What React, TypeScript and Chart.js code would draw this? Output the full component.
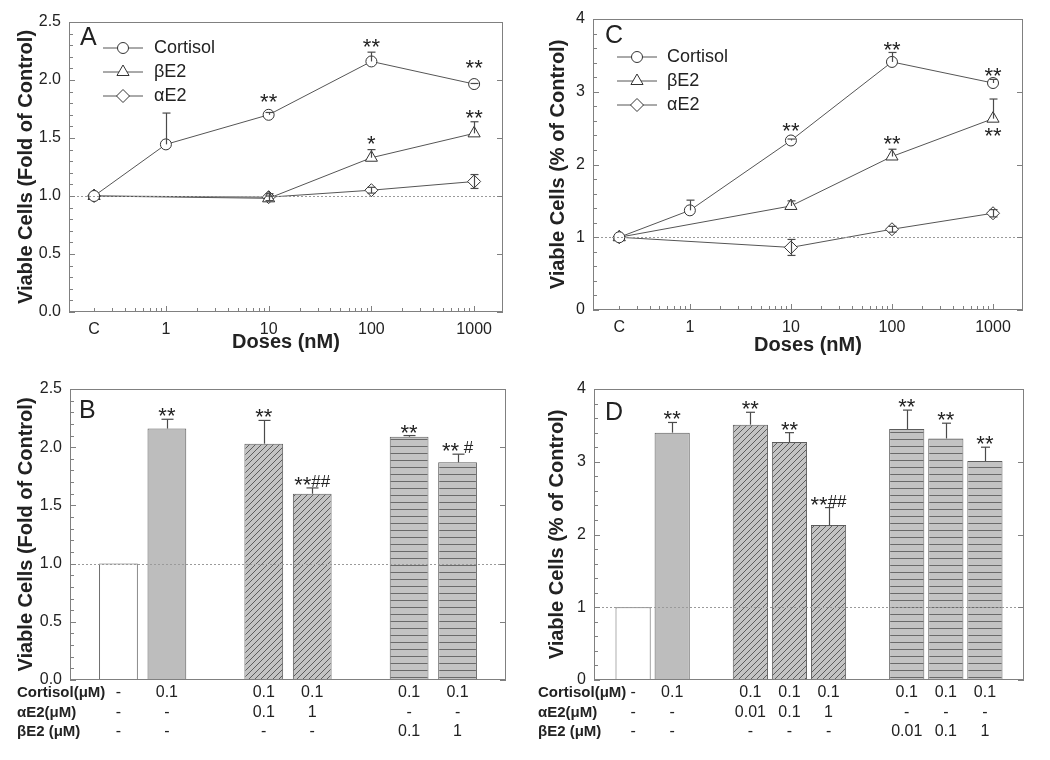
import React, { useEffect, useRef } from 'react';
import { Chart, registerables } from 'chart.js';
Chart.register(...registerables);

const FONT = '"Liberation Sans", Arial, Helvetica, sans-serif';
const INK = '#222222';
const AXIS = '#808080';
const LINE = '#555555';
const TICK_SIZE = 16;

// ---------- shared dose axis (panels A and C) ----------
const DOSE_TICKS = [0.2, 1, 10, 100, 1000];
const DOSE_LABELS = ['C', '1', '10', '100', '1000'];
const SERIES_NAMES = ['Cortisol', 'βE2', 'αE2'];

// ---------- Panel A ----------
const A_CORT_DOSES = [0.2, 1, 10, 100, 1000];
const A_CORT = [1.0, 1.445, 1.70, 2.16, 1.965];
const A_CORT_ERR = [0, 0.27, 0.02, 0.08, 0.005];
const A_BETA_DOSES = [0.2, 10, 100, 1000];
const A_BETA = [1.0, 0.98, 1.33, 1.54];
const A_BETA_ERR = [0, 0.02, 0.07, 0.10];
const A_ALPHA_DOSES = [0.2, 10, 100, 1000];
const A_ALPHA = [1.0, 0.99, 1.05, 1.125];
const A_ALPHA_ERR = [0, 0.03, 0.025, 0.06];
const A_MARK_TEXT = ['**', '**', '**', '*', '**'];
const A_MARK_DOSE = [10, 100, 1000, 100, 1000];
const A_MARK_Y = [1.845, 2.316, 2.14, 1.48, 1.71];

// ---------- Panel C ----------
const C_CORT_DOSES = [0.2, 1, 10, 100, 1000];
const C_CORT = [1.0, 1.37, 2.33, 3.41, 3.12];
const C_CORT_ERR = [0, 0.14, 0.02, 0.13, 0.05];
const C_BETA_DOSES = [0.2, 10, 100, 1000];
const C_BETA = [1.0, 1.43, 2.11, 2.63];
const C_BETA_ERR = [0, 0.07, 0.10, 0.27];
const C_ALPHA_DOSES = [0.2, 10, 100, 1000];
const C_ALPHA = [1.0, 0.86, 1.11, 1.33];
const C_ALPHA_ERR = [0, 0.11, 0.04, 0.05];
const C_MARK_TEXT = ['**', '**', '**', '**', '**'];
const C_MARK_DOSE = [10, 100, 1000, 100, 1000];
const C_MARK_Y = [2.51, 3.63, 3.275, 2.34, 2.44];

// ---------- Panel B ----------
const B_CATEGORIES = ['', 'Control', 'Cortisol 0.1', '', 'αE2 0.1', 'αE2 1', '', 'βE2 0.1', 'βE2 1', ''];
const B_VALUES = [null, 1.0, 2.16, null, 2.03, 1.60, null, 2.09, 1.87, null];
const B_ERRORS = [null, 0, 0.08, null, 0.20, 0.05, null, 0.01, 0.07, null];
const B_GROUPS = ['', 'control', 'cortisol', '', 'alpha', 'alpha', '', 'beta', 'beta', ''];
const B_MARKS = ['', '', '**', '', '**', '**##', '', '**', '** #', ''];
const B_ROW_CORTISOL = ['', '-', '0.1', '', '0.1', '0.1', '', '0.1', '0.1', ''];
const B_ROW_ALPHA = ['', '-', '-', '', '0.1', '1', '', '-', '-', ''];
const B_ROW_BETA = ['', '-', '-', '', '-', '-', '', '0.1', '1', ''];

// ---------- Panel D ----------
const D_CATEGORIES = ['', 'Control', 'Cortisol 0.1', '', 'αE2 0.01', 'αE2 0.1', 'αE2 1', '', 'βE2 0.01', 'βE2 0.1', 'βE2 1', ''];
const D_VALUES = [null, 1.0, 3.40, null, 3.51, 3.27, 2.13, null, 3.45, 3.32, 3.01, null];
const D_ERRORS = [null, 0, 0.14, null, 0.17, 0.13, 0.24, null, 0.26, 0.21, 0.19, null];
const D_GROUPS = ['', 'control', 'cortisol', '', 'alpha', 'alpha', 'alpha', '', 'beta', 'beta', 'beta', ''];
const D_MARKS = ['', '', '**', '', '**', '**', '**##', '', '**', '**', '**', ''];
const D_ROW_CORTISOL = ['', '-', '0.1', '', '0.1', '0.1', '0.1', '', '0.1', '0.1', '0.1', ''];
const D_ROW_ALPHA = ['', '-', '-', '', '0.01', '0.1', '1', '', '-', '-', '-', ''];
const D_ROW_BETA = ['', '-', '-', '', '-', '-', '-', '', '0.01', '0.1', '1', ''];

const TABLE_LABELS = ['Cortisol(μM)', 'αE2(μM)', 'βE2 (μM)'];

type Decor = {
  minorStep: number;
  majorStep: number;
  logX: boolean;
  letter: string;
  letterDx: number;
  letterDy: number;
  errors: (number | null)[][];
  both: boolean[];
  capHalf: number;
  legend?: { dx: number; dy: number; gap: number; len: number; textDx: number };
  marks?: { text: string[]; x: number[]; y: number[] };
  barMarks?: string[];
  table?: { rows: string[][]; labelX: number; dys: number[] };
};

function markerPath(ctx: CanvasRenderingContext2D, style: string, x: number, y: number, r: number) {
  ctx.beginPath();
  if (style === 'circle') {
    ctx.arc(x, y, r, 0, Math.PI * 2);
  } else if (style === 'triangle') {
    let rad = 0;
    ctx.moveTo(x + Math.sin(rad) * r, y - Math.cos(rad) * r);
    rad += (2 * Math.PI) / 3;
    ctx.lineTo(x + Math.sin(rad) * r, y - Math.cos(rad) * r);
    rad += (2 * Math.PI) / 3;
    ctx.lineTo(x + Math.sin(rad) * r, y - Math.cos(rad) * r);
    ctx.closePath();
  } else {
    ctx.moveTo(x, y - r);
    ctx.lineTo(x + r, y);
    ctx.lineTo(x, y + r);
    ctx.lineTo(x - r, y);
    ctx.closePath();
  }
}

function glyphBaseline(ctx: CanvasRenderingContext2D, text: string, cy: number) {
  const m = ctx.measureText(text);
  const asc = m.actualBoundingBoxAscent || 0;
  const desc = m.actualBoundingBoxDescent || 0;
  return cy + (asc - desc) / 2;
}

function drawMark(ctx: CanvasRenderingContext2D, text: string, cx: number, cy: number) {
  const m = text.match(/^(\**)(.*)$/) || ['', text, ''];
  const stars = m[1];
  const rest = m[2];
  const starFont = `22px ${FONT}`;
  const hashFont = `17px ${FONT}`;
  ctx.font = starFont;
  const ws = ctx.measureText(stars).width;
  ctx.font = hashFont;
  const wr = rest ? ctx.measureText(rest).width : 0;
  const x0 = cx - (ws + wr) / 2;
  ctx.fillStyle = INK;
  ctx.textAlign = 'left';
  ctx.textBaseline = 'alphabetic';
  ctx.font = starFont;
  ctx.fillText(stars, x0, glyphBaseline(ctx, stars, cy));
  if (rest) {
    ctx.font = hashFont;
    ctx.fillText(rest, x0 + ws, glyphBaseline(ctx, rest.trim(), cy));
  }
}

function decorPlugin(cfg: Decor) {
  return {
    id: 'decor',
    afterDatasetsDraw(chart: any) {
      const { ctx, chartArea: a, scales } = chart;
      const xs = scales.x;
      const ys = scales.y;
      const seg = (x1: number, y1: number, x2: number, y2: number) => {
        ctx.beginPath();
        ctx.moveTo(x1, y1);
        ctx.lineTo(x2, y2);
        ctx.stroke();
      };
      ctx.save();

      // dotted reference line at 1 (control level)
      ctx.strokeStyle = '#9a9a9a';
      ctx.lineWidth = 1;
      ctx.setLineDash([2, 2]);
      const yr = Math.round(ys.getPixelForValue(1)) + 0.5;
      seg(a.left, yr, a.right, yr);
      ctx.setLineDash([]);

      // error bars
      ctx.strokeStyle = '#4a4a4a';
      ctx.lineWidth = 1.2;
      cfg.errors.forEach((errs, di) => {
        const meta = chart.getDatasetMeta(di);
        const ds = chart.data.datasets[di];
        meta.data.forEach((el: any, j: number) => {
          const e = errs[j];
          if (e == null || e <= 0) return;
          const raw = ds.data[j];
          const v = typeof raw === 'number' ? raw : raw && raw.y;
          if (v == null) return;
          const px = Math.round(el.x) + 0.5;
          const yTop = ys.getPixelForValue(v + e);
          const yBot = cfg.both[di] ? ys.getPixelForValue(v - e) : el.y;
          seg(px, yBot, px, yTop);
          seg(px - cfg.capHalf, yTop, px + cfg.capHalf, yTop);
          if (cfg.both[di]) seg(px - cfg.capHalf, yBot, px + cfg.capHalf, yBot);
        });
      });

      // significance marks on line panels
      if (cfg.marks) {
        cfg.marks.text.forEach((t, i) => {
          drawMark(ctx, t, xs.getPixelForValue(cfg.marks!.x[i]), ys.getPixelForValue(cfg.marks!.y[i]));
        });
      }
      // significance marks on bar panels
      if (cfg.barMarks) {
        const meta = chart.getDatasetMeta(0);
        const ds = chart.data.datasets[0];
        cfg.barMarks.forEach((t, j) => {
          if (!t) return;
          const v = ds.data[j];
          const e = cfg.errors[0][j] || 0;
          drawMark(ctx, t, meta.data[j].x, ys.getPixelForValue(v + e) - 7);
        });
      }

      // legend
      if (cfg.legend) {
        const L = cfg.legend;
        chart.data.datasets.forEach((ds: any, i: number) => {
          const y = a.top + L.dy + i * L.gap;
          const x0 = a.left + L.dx;
          ctx.strokeStyle = LINE;
          ctx.lineWidth = 1;
          seg(x0, y, x0 + L.len, y);
          ctx.fillStyle = '#ffffff';
          ctx.strokeStyle = '#333333';
          markerPath(ctx, ds.pointStyle, x0 + L.len / 2, y, ds.pointRadius);
          ctx.fill();
          ctx.stroke();
          ctx.fillStyle = INK;
          ctx.font = `18px ${FONT}`;
          ctx.textAlign = 'left';
          ctx.textBaseline = 'middle';
          ctx.fillText(ds.label, a.left + L.textDx, y);
        });
      }

      // panel letter
      ctx.fillStyle = INK;
      ctx.font = `25px ${FONT}`;
      ctx.textAlign = 'left';
      ctx.textBaseline = 'alphabetic';
      ctx.fillText(cfg.letter, a.left + cfg.letterDx, a.top + cfg.letterDy);

      // treatment table under bar panels
      if (cfg.table) {
        const T = cfg.table;
        T.rows.forEach((row, r) => {
          const y = a.bottom + T.dys[r];
          ctx.textBaseline = 'middle';
          ctx.font = `bold 15px ${FONT}`;
          ctx.textAlign = 'left';
          ctx.fillText(TABLE_LABELS[r], T.labelX, y);
          ctx.font = `${TICK_SIZE}px ${FONT}`;
          ctx.textAlign = 'center';
          row.forEach((s, i) => {
            if (!s) return;
            ctx.fillText(s, xs.getPixelForValue(i), y);
          });
        });
      }

      // frame and inward ticks
      ctx.strokeStyle = AXIS;
      ctx.lineWidth = 1;
      ctx.strokeRect(a.left + 0.5, a.top + 0.5, a.right - a.left - 1, a.bottom - a.top - 1);
      const n = Math.round((ys.max - ys.min) / cfg.minorStep);
      for (let k = 0; k <= n; k++) {
        const v = ys.min + k * cfg.minorStep;
        const ratio = v / cfg.majorStep;
        const major = Math.abs(ratio - Math.round(ratio)) < 1e-6;
        const py = Math.round(ys.getPixelForValue(v)) + 0.5;
        seg(a.left, py, a.left + (major ? 6 : 4), py);
        if (major) seg(a.right, py, a.right - 6, py);
      }
      if (cfg.logX) {
        [0.1, 1, 10, 100, 1000].forEach((d) => {
          for (let k = 1; k <= 9; k++) {
            const v = k * d;
            if (v < 0.2 - 1e-9 || v > 1000 + 1e-9) continue;
            const px = Math.round(xs.getPixelForValue(v)) + 0.5;
            seg(px, a.bottom, px, a.bottom - (k === 1 ? 6 : 4));
          }
        });
      }
      ctx.restore();
    },
  };
}

type LineSeries = { doses: number[]; values: number[]; errors: number[]; style: string; radius: number; both: boolean };

function lineConfig(o: {
  series: LineSeries[];
  yMax: number; yStep: number; yMinor: number; yDecimals: number; yTitle: string;
  xMin: number; xMax: number;
  padTop: number; padRight: number; xHeight: number; yWidth: number;
  yTitlePad: number; xTitlePad: number;
  letter: string; letterDx: number; letterDy: number;
  legend: Decor['legend'];
  marks: Decor['marks'];
}): any {
  const datasets = o.series.map((s, i) => ({
    label: SERIES_NAMES[i],
    data: s.doses.map((d, j) => ({ x: d, y: s.values[j] })),
    borderColor: LINE,
    borderWidth: 1,
    pointStyle: s.style,
    pointRadius: s.radius,
    pointHoverRadius: s.radius,
    pointBackgroundColor: '#ffffff',
    pointBorderColor: '#333333',
    pointBorderWidth: 1,
    tension: 0,
    fill: false,
  }));
  return {
    type: 'line',
    data: { datasets },
    options: {
      animation: false,
      responsive: false,
      devicePixelRatio: 1,
      layout: { padding: { top: o.padTop, right: o.padRight, left: 0, bottom: 0 } },
      plugins: { legend: { display: false }, tooltip: { enabled: false } },
      scales: {
        x: {
          type: 'logarithmic',
          min: o.xMin,
          max: o.xMax,
          afterBuildTicks: (axis: any) => {
            axis.ticks = DOSE_TICKS.map((v) => ({ value: v }));
          },
          afterFit: (axis: any) => {
            axis.height = o.xHeight;
          },
          grid: { display: false, drawTicks: false },
          border: { display: false },
          ticks: {
            autoSkip: false,
            maxRotation: 0,
            padding: 8,
            color: INK,
            font: { family: FONT, size: TICK_SIZE },
            callback: (_v: any, i: number) => DOSE_LABELS[i],
          },
          title: {
            display: true,
            text: 'Doses (nM)',
            color: INK,
            font: { family: FONT, size: 20, weight: 'bold' },
            padding: { top: 0, bottom: o.xTitlePad },
          },
        },
        y: {
          min: 0,
          max: o.yMax,
          afterFit: (axis: any) => {
            axis.width = o.yWidth;
          },
          grid: { display: false, drawTicks: false },
          border: { display: false },
          ticks: {
            stepSize: o.yStep,
            padding: 8,
            color: INK,
            font: { family: FONT, size: TICK_SIZE },
            callback: (v: any) => Number(v).toFixed(o.yDecimals),
          },
          title: {
            display: true,
            text: o.yTitle,
            color: INK,
            font: { family: FONT, size: 20, weight: 'bold' },
            padding: { top: o.yTitlePad, bottom: 0 },
          },
        },
      },
    },
    plugins: [
      decorPlugin({
        minorStep: o.yMinor,
        majorStep: o.yStep,
        logX: true,
        letter: o.letter,
        letterDx: o.letterDx,
        letterDy: o.letterDy,
        errors: o.series.map((s) => s.errors),
        both: o.series.map((s) => s.both),
        capHalf: 4,
        legend: o.legend,
        marks: o.marks,
      }),
    ],
  };
}

function makePatterns() {
  const diag = document.createElement('canvas');
  diag.width = 6;
  diag.height = 6;
  const g = diag.getContext('2d')!;
  g.fillStyle = '#c3c3c3';
  g.fillRect(0, 0, 6, 6);
  g.strokeStyle = '#505050';
  g.lineWidth = 0.9;
  g.beginPath();
  g.moveTo(-1, 7);
  g.lineTo(7, -1);
  g.moveTo(-1, 1);
  g.lineTo(1, -1);
  g.moveTo(5, 7);
  g.lineTo(7, 5);
  g.stroke();
  const hor = document.createElement('canvas');
  hor.width = 4;
  hor.height = 7;
  const h = hor.getContext('2d')!;
  h.fillStyle = '#c3c3c3';
  h.fillRect(0, 0, 4, 7);
  h.fillStyle = '#6a6a6a';
  h.fillRect(0, 6, 4, 1);
  const ctx = document.createElement('canvas').getContext('2d')!;
  return {
    control: '#ffffff',
    cortisol: '#bdbdbd',
    alpha: ctx.createPattern(diag, 'repeat'),
    beta: ctx.createPattern(hor, 'repeat'),
  } as Record<string, any>;
}

function barConfig(o: {
  categories: string[]; values: (number | null)[]; errors: (number | null)[]; groups: string[];
  marks: string[]; rows: string[][];
  yMax: number; yStep: number; yMinor: number; yDecimals: number; yTitle: string;
  padTop: number; padRight: number; xHeight: number; yWidth: number; yTitlePad: number;
  barPct: number; capHalf: number; letter: string; letterDx: number; letterDy: number; labelX: number;
}): any {
  const fills = makePatterns();
  return {
    type: 'bar',
    data: {
      labels: o.categories,
      datasets: [
        {
          label: 'Viable cells',
          data: o.values,
          backgroundColor: o.groups.map((g) => fills[g] || '#ffffff'),
          borderColor: '#5c5c5c',
          borderWidth: 1,
          borderSkipped: 'start',
          barPercentage: o.barPct,
          categoryPercentage: 1,
        },
      ],
    },
    options: {
      animation: false,
      responsive: false,
      devicePixelRatio: 1,
      layout: { padding: { top: o.padTop, right: o.padRight, left: 0, bottom: 0 } },
      plugins: { legend: { display: false }, tooltip: { enabled: false } },
      scales: {
        x: {
          type: 'category',
          offset: false,
          afterFit: (axis: any) => {
            axis.height = o.xHeight;
          },
          grid: { display: false, drawTicks: false },
          border: { display: false },
          ticks: { display: false },
        },
        y: {
          min: 0,
          max: o.yMax,
          afterFit: (axis: any) => {
            axis.width = o.yWidth;
          },
          grid: { display: false, drawTicks: false },
          border: { display: false },
          ticks: {
            stepSize: o.yStep,
            padding: 8,
            color: INK,
            font: { family: FONT, size: TICK_SIZE },
            callback: (v: any) => Number(v).toFixed(o.yDecimals),
          },
          title: {
            display: true,
            text: o.yTitle,
            color: INK,
            font: { family: FONT, size: 20, weight: 'bold' },
            padding: { top: o.yTitlePad, bottom: 0 },
          },
        },
      },
    },
    plugins: [
      decorPlugin({
        minorStep: o.yMinor,
        majorStep: o.yStep,
        logX: false,
        letter: o.letter,
        letterDx: o.letterDx,
        letterDy: o.letterDy,
        errors: [o.errors],
        both: [false],
        capHalf: o.capHalf,
        barMarks: o.marks,
        table: { rows: o.rows, labelX: o.labelX, dys: [13, 33, 52] },
      }),
    ],
  };
}

const buildA = () =>
  lineConfig({
    series: [
      { doses: A_CORT_DOSES, values: A_CORT, errors: A_CORT_ERR, style: 'circle', radius: 5.5, both: false },
      { doses: A_BETA_DOSES, values: A_BETA, errors: A_BETA_ERR, style: 'triangle', radius: 7, both: false },
      { doses: A_ALPHA_DOSES, values: A_ALPHA, errors: A_ALPHA_ERR, style: 'rectRot', radius: 6.5, both: true },
    ],
    yMax: 2.5, yStep: 0.5, yMinor: 0.1, yDecimals: 1, yTitle: 'Viable Cells (Fold of Control)',
    xMin: 0.114, xMax: 1910,
    padTop: 22, padRight: 17, xHeight: 58, yWidth: 69, yTitlePad: 14, xTitlePad: 16,
    letter: 'A', letterDx: 11, letterDy: 23,
    legend: { dx: 34, dy: 26, gap: 24, len: 40, textDx: 85 },
    marks: { text: A_MARK_TEXT, x: A_MARK_DOSE, y: A_MARK_Y },
  });

const buildC = () =>
  lineConfig({
    series: [
      { doses: C_CORT_DOSES, values: C_CORT, errors: C_CORT_ERR, style: 'circle', radius: 5.5, both: false },
      { doses: C_BETA_DOSES, values: C_BETA, errors: C_BETA_ERR, style: 'triangle', radius: 7, both: false },
      { doses: C_ALPHA_DOSES, values: C_ALPHA, errors: C_ALPHA_ERR, style: 'rectRot', radius: 6.5, both: true },
    ],
    yMax: 4, yStep: 1, yMinor: 0.2, yDecimals: 0, yTitle: 'Viable Cells (% of Control)',
    xMin: 0.11, xMax: 1980,
    padTop: 19, padRight: 27, xHeight: 60, yWidth: 73, yTitlePad: 26, xTitlePad: 13,
    letter: 'C', letterDx: 12, letterDy: 24,
    legend: { dx: 24, dy: 38, gap: 24, len: 40, textDx: 74 },
    marks: { text: C_MARK_TEXT, x: C_MARK_DOSE, y: C_MARK_Y },
  });

const buildB = () =>
  barConfig({
    categories: B_CATEGORIES, values: B_VALUES, errors: B_ERRORS, groups: B_GROUPS, marks: B_MARKS,
    rows: [B_ROW_CORTISOL, B_ROW_ALPHA, B_ROW_BETA],
    yMax: 2.5, yStep: 0.5, yMinor: 0.1, yDecimals: 1, yTitle: 'Viable Cells (Fold of Control)',
    padTop: 19, padRight: 14, xHeight: 80, yWidth: 70, yTitlePad: 14,
    barPct: 0.8, capHalf: 6, letter: 'B', letterDx: 9, letterDy: 29, labelX: 17,
  });

const buildD = () =>
  barConfig({
    categories: D_CATEGORIES, values: D_VALUES, errors: D_ERRORS, groups: D_GROUPS, marks: D_MARKS,
    rows: [D_ROW_CORTISOL, D_ROW_ALPHA, D_ROW_BETA],
    yMax: 4, yStep: 1, yMinor: 0.2, yDecimals: 0, yTitle: 'Viable Cells (% of Control)',
    padTop: 19, padRight: 26, xHeight: 80, yWidth: 74, yTitlePad: 25,
    barPct: 0.9, capHalf: 4.5, letter: 'D', letterDx: 11, letterDy: 31, labelX: 18,
  });

function Panel(props: { left: number; top: number; width: number; height: number; build: () => any }) {
  const ref = useRef<HTMLCanvasElement>(null);
  useEffect(() => {
    const chart = new Chart(ref.current as HTMLCanvasElement, props.build());
    return () => chart.destroy();
  }, [props.build]);
  return (
    <canvas
      ref={ref}
      width={props.width}
      height={props.height}
      style={{ position: 'absolute', left: props.left, top: props.top, width: props.width, height: props.height }}
    />
  );
}

export default function App() {
  return (
    <div style={{ position: 'absolute', left: 0, top: 0, width: 1050, height: 760, background: '#ffffff', overflow: 'hidden' }}>
      <Panel left={0} top={0} width={520} height={370} build={buildA} />
      <Panel left={520} top={0} width={530} height={370} build={buildC} />
      <Panel left={0} top={370} width={520} height={390} build={buildB} />
      <Panel left={520} top={370} width={530} height={390} build={buildD} />
    </div>
  );
}
